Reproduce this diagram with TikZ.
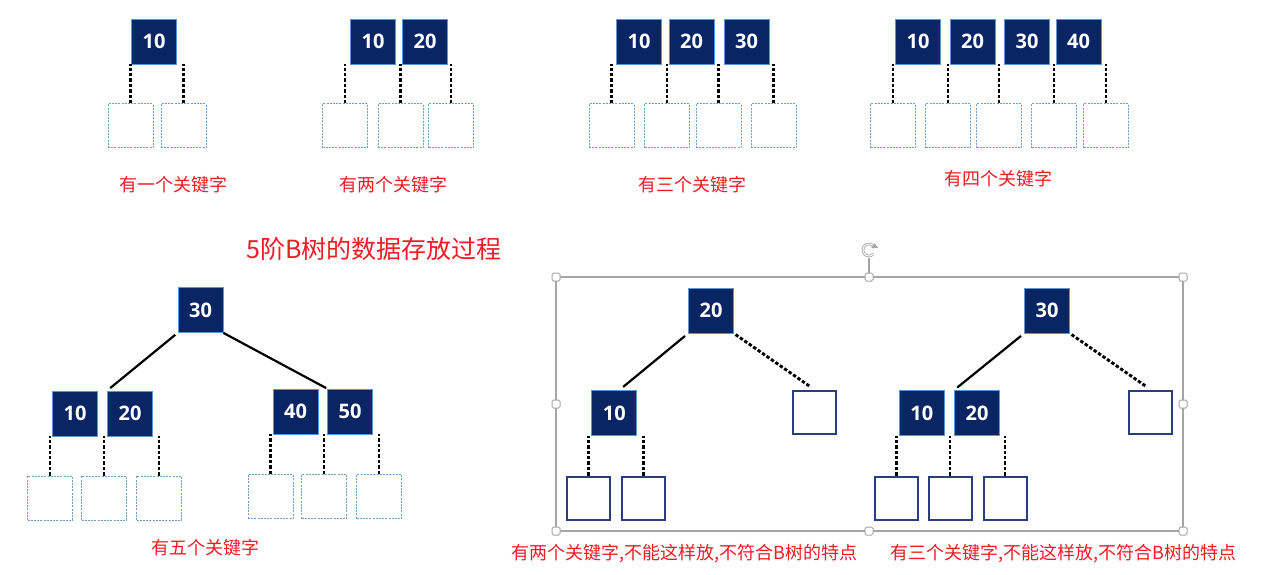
\documentclass[tikz,border=0pt]{standalone}
\usepackage{fontspec}
\newfontfamily\cjk{Noto Sans CJK SC}
\newfontfamily\numfont{Open Sans}
\usetikzlibrary{arrows.meta,calc}
\definecolor{navy}{RGB}{10,37,100}
\definecolor{keyedge}{RGB}{90,150,210}
\definecolor{dotblue}{RGB}{105,160,212}
\definecolor{outblue}{RGB}{40,62,128}
\definecolor{redtxt}{RGB}{238,28,36}
\definecolor{handle}{RGB}{165,165,165}
\tikzset{
 keybox/.style={draw=keyedge, line width=0.8pt, fill=navy, minimum width=45pt, minimum height=45pt, inner sep=0pt, text=white, font=\numfont\bfseries\fontsize{20}{24}\selectfont},
 leafbox/.style={draw=dotblue, line width=1pt, dash pattern=on 2pt off 1.2pt, minimum width=45pt, minimum height=44pt, inner sep=0pt},
 solidleaf/.style={draw=outblue, line width=2pt, fill=white, minimum width=43pt, minimum height=43pt, inner sep=0pt},
 dotlink/.style={draw=black, line width=2.9pt, dash pattern=on 3.4pt off 2pt},
 treelink/.style={draw=black, line width=2.2pt},
 redlabel/.style={text=redtxt, font=\cjk\fontsize{18}{22}\selectfont, inner sep=0pt},
 titlelabel/.style={text=redtxt, font=\cjk\fontsize{25}{30}\selectfont, inner sep=0pt},
 handlebox/.style={draw=handle, fill=white, line width=1pt, minimum size=8pt, inner sep=0pt, rounded corners=1.5pt},
}
\begin{document}
\begin{tikzpicture}[x=1pt,y=-1pt]
\fill[white] (0,0) rectangle (1267,575);
\useasboundingbox (0,0) rectangle (1267,575);

% ---------- group 1 ----------
\node[keybox] (ak1) at (154,41.5) {10};
\foreach \n/\x in {1/130.5,2/183.5}{
  \node[leafbox] (ac\n) at (\x,126) {};
  \draw[dotlink] (ac\n.north) -- (ac\n.north |- ak1.south);
}
\node[redlabel] (al) at (173,185) {有一个关键字};

% ---------- group 2 ----------
\node[keybox] (bk1) at (373,41.5) {10};
\node[keybox] (bk2) at (425,41.5) {20};
\foreach \n/\x in {1/345,2/400.5,3/451}{
  \node[leafbox] (bc\n) at (\x,126) {};
  \draw[dotlink] (bc\n.north) -- (bc\n.north |- bk1.south);
}
\node[redlabel] (bl) at (393,185) {有两个关键字};

% ---------- group 3 ----------
\node[keybox] (ck1) at (639,41.5) {10};
\node[keybox] (ck2) at (691.5,41.5) {20};
\node[keybox] (ck3) at (746.5,41.5) {30};
\foreach \n/\x in {1/611.5,2/667,3/718.5,4/773.5}{
  \node[leafbox] (cc\n) at (\x,126) {};
  \draw[dotlink] (cc\n.north) -- (cc\n.north |- ck1.south);
}
\node[redlabel] (cl) at (692,185) {有三个关键字};

% ---------- group 4 ----------
\node[keybox] (dk1) at (918,41.5) {10};
\node[keybox] (dk2) at (972.5,41.5) {20};
\node[keybox] (dk3) at (1027,41.5) {30};
\node[keybox] (dk4) at (1078.5,41.5) {40};
\foreach \n/\x in {1/893,2/948,3/999,4/1054,5/1106}{
  \node[leafbox] (dc\n) at (\x,126) {};
  \draw[dotlink] (dc\n.north) -- (dc\n.north |- dk1.south);
}
\node[redlabel] (dl) at (998,179) {有四个关键字};

% ---------- title ----------
\node[titlelabel] (title) at (374,249) {5阶B树的数据存放过程};

% ---------- bottom-left tree ----------
\node[keybox] (er) at (200.5,310) {30};
\node[keybox] (ek1) at (75,413.5) {10};
\node[keybox] (ek2) at (130,413.5) {20};
\node[keybox] (ek3) at (295.5,411.5) {40};
\node[keybox] (ek4) at (350,411.5) {50};
\draw[treelink, shorten <=3pt, shorten >=4pt] (er.south west) -- (ek2.north west);
\draw[treelink, shorten >=1pt] (er.south east) -- (ek4.north west);
\foreach \n/\x in {1/50,2/104,3/159}{
  \node[leafbox] (el\n) at (\x,498) {};
  \draw[dotlink] (el\n.north) -- (el\n.north |- ek1.south);
}
\foreach \n/\x in {1/270.5,2/324,3/379}{
  \node[leafbox] (em\n) at (\x,496.5) {};
  \draw[dotlink] (em\n.north) -- (em\n.north |- ek3.south);
}
\node[redlabel] (el) at (205,548) {有五个关键字};

% ---------- selection frame ----------
\coordinate (fnw) at (556,277);
\coordinate (fse) at (1183,531);
\draw[handle, line width=1.3pt] (fnw) rectangle (fse);
\node[circle, inner sep=0pt, minimum size=16pt] (rot) at (869,250) {};
\draw[handle, line width=1.2pt] (rot.south) -- (869,277);
\draw[handle, line width=2.6pt] ([shift={(20:6pt)}]rot.center) arc[start angle=20, end angle=320, radius=6pt];
\draw[white, line width=1pt] ([shift={(20:6pt)}]rot.center) arc[start angle=20, end angle=320, radius=6pt];
\fill[handle] ([shift={(20:6pt)}]rot.center) ++(-3.5pt,0) -- ++(7pt,0) -- ++(-3.5pt,4.5pt) -- cycle;
\foreach \n/\x/\y in {1/556/277,2/869/277,3/1183/277,4/556/404,5/1183/404,6/556/531,7/869/531,8/1183/531}{
  \node[handlebox] (h\n) at (\x,\y) {};
}

% ---------- right panel tree 1 ----------
\node[keybox] (fr) at (711,310.5) {20};
\node[keybox] (fk1) at (614.3,413) {10};
\node[solidleaf] (fe) at (814.3,412) {};
\draw[treelink, shorten <=4pt, shorten >=5pt] (fr.south west) -- ([xshift=5pt]fk1.north);
\draw[dotlink, shorten <=2pt, shorten >=5pt] (fr.south east) -- (fe.north);
\foreach \n/\x in {1/588.6,2/643.6}{
  \node[solidleaf] (fc\n) at (\x,498) {};
  \draw[dotlink] (fc\n.north) -- (fc\n.north |- fk1.south);
}
\node[redlabel] (fl) at (684.5,554) {有两个关键字,不能这样放,不符合B树的特点};

% ---------- right panel tree 2 ----------
\node[keybox] (gr) at (1047,310.5) {30};
\node[keybox] (gk1) at (921.8,413) {10};
\node[keybox] (gk2) at (977,413) {20};
\node[solidleaf] (ge) at (1150.5,412) {};
\draw[treelink, shorten <=4pt, shorten >=4pt] (gr.south west) -- (gk2.north west);
\draw[dotlink, shorten <=2pt, shorten >=5pt] (gr.south east) -- (ge.north);
\foreach \n/\x in {1/896.6,2/950,3/1005}{
  \node[solidleaf] (gc\n) at (\x,498) {};
  \draw[dotlink] (gc\n.north) -- (gc\n.north |- gk1.south);
}
\node[redlabel] (gl) at (1063.5,554) {有三个关键字,不能这样放,不符合B树的特点};
\end{tikzpicture}
\end{document}
